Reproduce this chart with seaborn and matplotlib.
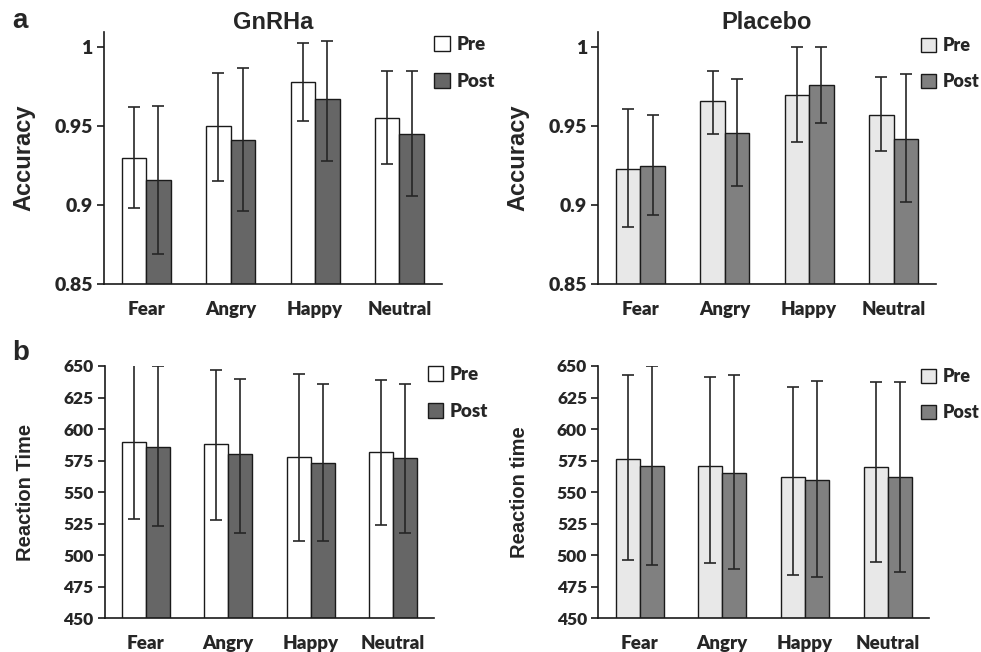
import matplotlib
matplotlib.use("Agg")
import matplotlib.pyplot as plt
from matplotlib.patches import Patch
import seaborn as sns
import pandas as pd
import numpy as np

sns.set_style("white")
plt.rcParams['font.family'] = ['Liberation Sans', 'DejaVu Sans']

emotions = ["Fear", "Angry", "Happy", "Neutral"]
sessions = ["Pre", "Post"]

# Accuracy, GnRHa
acc_gn_pre = [0.930, 0.950, 0.978, 0.955]
acc_gn_pre_lo = [0.898, 0.915, 0.953, 0.926]
acc_gn_pre_hi = [0.962, 0.984, 1.003, 0.985]
acc_gn_post = [0.916, 0.941, 0.967, 0.945]
acc_gn_post_lo = [0.869, 0.896, 0.928, 0.906]
acc_gn_post_hi = [0.963, 0.987, 1.004, 0.985]

# Accuracy, Placebo
acc_pl_pre = [0.923, 0.966, 0.970, 0.957]
acc_pl_pre_lo = [0.886, 0.945, 0.940, 0.934]
acc_pl_pre_hi = [0.961, 0.985, 1.000, 0.981]
acc_pl_post = [0.925, 0.946, 0.976, 0.942]
acc_pl_post_lo = [0.894, 0.912, 0.952, 0.902]
acc_pl_post_hi = [0.957, 0.980, 1.000, 0.983]

# Reaction time, GnRHa
rt_gn_pre = [590, 588, 578, 582]
rt_gn_pre_lo = [529, 528, 511, 524]
rt_gn_pre_hi = [653, 647, 644, 639]
rt_gn_post = [586, 580, 573, 577]
rt_gn_post_lo = [523, 518, 511, 518]
rt_gn_post_hi = [649.8, 640, 636, 636]

# Reaction time, Placebo
rt_pl_pre = [576, 571, 562, 570]
rt_pl_pre_lo = [496, 494, 484, 495]
rt_pl_pre_hi = [643, 641, 633, 637]
rt_pl_post = [571, 565, 560, 562]
rt_pl_post_lo = [492, 489, 483, 487]
rt_pl_post_hi = [649.8, 643, 638, 637]

acc_ticks = [0.85, 0.9, 0.95, 1.0]
acc_ticklabels = ["0.85", "0.9", "0.95", "1"]
rt_ticks = [450, 475, 500, 525, 550, 575, 600, 625, 650]

gn_colors = ["#ffffff", "#666666"]
pl_colors = ["#e8e8e8", "#808080"]

W, H = 981, 652
fig = plt.figure(figsize=(W / 100, H / 100), dpi=100)

def ax_at(x0, y0, x1, y1):
    return fig.add_axes([x0 / W, 1 - y1 / H, (x1 - x0) / W, (y1 - y0) / H])

tick_font = ['Lato', 'DejaVu Sans']
TW = "heavy"

def panel(ax, pre, pre_lo, pre_hi, post, post_lo, post_hi, colors, ylim,
          yticks, yticklabels, ylabel, ylabel_size, ytick_size, ylabelpad, leg_xy,
          leg_size):
    df = pd.DataFrame({
        "emotion": emotions * 2,
        "session": ["Pre"] * 4 + ["Post"] * 4,
        "value": list(pre) + list(post),
    })
    sns.barplot(data=df, x="emotion", y="value", hue="session",
                order=emotions, hue_order=sessions, palette=colors,
                width=0.58, errorbar=None, edgecolor="#1a1a1a",
                linewidth=1.0, ax=ax, legend=False)
    centers = {}
    for cont, sess in zip(ax.containers, sessions):
        centers[sess] = [p.get_x() + p.get_width() / 2 for p in cont.patches]
    for sess, m, lo, hi in [("Pre", pre, pre_lo, pre_hi), ("Post", post, post_lo, post_hi)]:
        m = np.array(m); lo = np.array(lo); hi = np.array(hi)
        ax.errorbar(centers[sess], m, yerr=[m - lo, hi - m], fmt="none",
                    ecolor="#262626", elinewidth=1.2, capsize=4.5, capthick=1.2,
                    zorder=5)
    ax.set_ylim(*ylim)
    ax.set_xlim(-0.5, 3.5)
    ax.set_yticks(yticks)
    ax.set_yticklabels(yticklabels, fontsize=ytick_size, fontweight=TW,
                       family=tick_font)
    ax.set_xticks(range(4))
    ax.set_xticklabels(emotions, fontsize=13.5, fontweight=TW, family=tick_font)
    ax.set_xticks([-0.5, 0.5, 1.5, 2.5, 3.5], minor=True)
    ax.tick_params(axis="x", which="major", length=0, pad=12)
    ax.tick_params(axis="x", which="minor", length=6, width=1.2, color="#1a1a1a",
                   direction="out")
    ax.tick_params(axis="y", which="major", length=5, width=1.2, color="#1a1a1a",
                   direction="out", left=True, pad=3)
    ax.set_xlabel("")
    ax.set_ylabel(ylabel, fontsize=ylabel_size, fontweight="bold", labelpad=ylabelpad)
    for s in ["top", "right"]:
        ax.spines[s].set_visible(False)
    for s in ["left", "bottom"]:
        ax.spines[s].set_color("#1a1a1a")
        ax.spines[s].set_linewidth(1.2)
    handles = [Patch(facecolor=c, edgecolor="#1a1a1a", linewidth=1.0) for c in colors]
    ax.legend(handles, sessions, loc="upper left", bbox_to_anchor=leg_xy,
              bbox_transform=fig.transFigure, frameon=False,
              handlelength=0.85, handleheight=0.85, handletextpad=0.35,
              labelspacing=1.05, borderpad=0, borderaxespad=0,
              prop={"family": tick_font, "weight": TW, "size": leg_size})

ax1 = ax_at(104, 31.5, 441.7, 284)
panel(ax1, acc_gn_pre, acc_gn_pre_lo, acc_gn_pre_hi, acc_gn_post, acc_gn_post_lo,
      acc_gn_post_hi, gn_colors, (0.85, 1.01), acc_ticks, acc_ticklabels,
      "Accuracy", 17, 14, 14, (434 / W, 1 - 36 / H), 13.5)
ax1.set_title("GnRHa", fontsize=17, fontweight="bold", pad=2)

ax2 = ax_at(598.3, 31.5, 935.7, 284)
panel(ax2, acc_pl_pre, acc_pl_pre_lo, acc_pl_pre_hi, acc_pl_post, acc_pl_post_lo,
      acc_pl_post_hi, pl_colors, (0.85, 1.01), acc_ticks, acc_ticklabels,
      "Accuracy", 17, 14, 14, (921 / W, 1 - 37 / H), 13)
ax2.set_title("Placebo", fontsize=17, fontweight="bold", pad=2)

ax3 = ax_at(104.7, 366, 434.3, 618.3)
panel(ax3, rt_gn_pre, rt_gn_pre_lo, rt_gn_pre_hi, rt_gn_post, rt_gn_post_lo,
      rt_gn_post_hi, gn_colors, (450, 650), rt_ticks, [str(t) for t in rt_ticks],
      "Reaction Time", 14.5, 12.5, 20, (427.5 / W, 1 - 366 / H), 13.5)

ax4 = ax_at(598.3, 366, 929, 618.3)
panel(ax4, rt_pl_pre, rt_pl_pre_lo, rt_pl_pre_hi, rt_pl_post, rt_pl_post_lo,
      rt_pl_post_hi, pl_colors, (450, 650), rt_ticks, [str(t) for t in rt_ticks],
      "Reaction time", 14.5, 12.5, 20, (921 / W, 1 - 368 / H), 13)

fig.text(12 / W, 1 - 28 / H, "a", fontsize=20, fontweight="bold")
fig.text(12 / W, 1 - 360 / H, "b", fontsize=20, fontweight="bold")

fig.savefig("out.png", dpi=100)
